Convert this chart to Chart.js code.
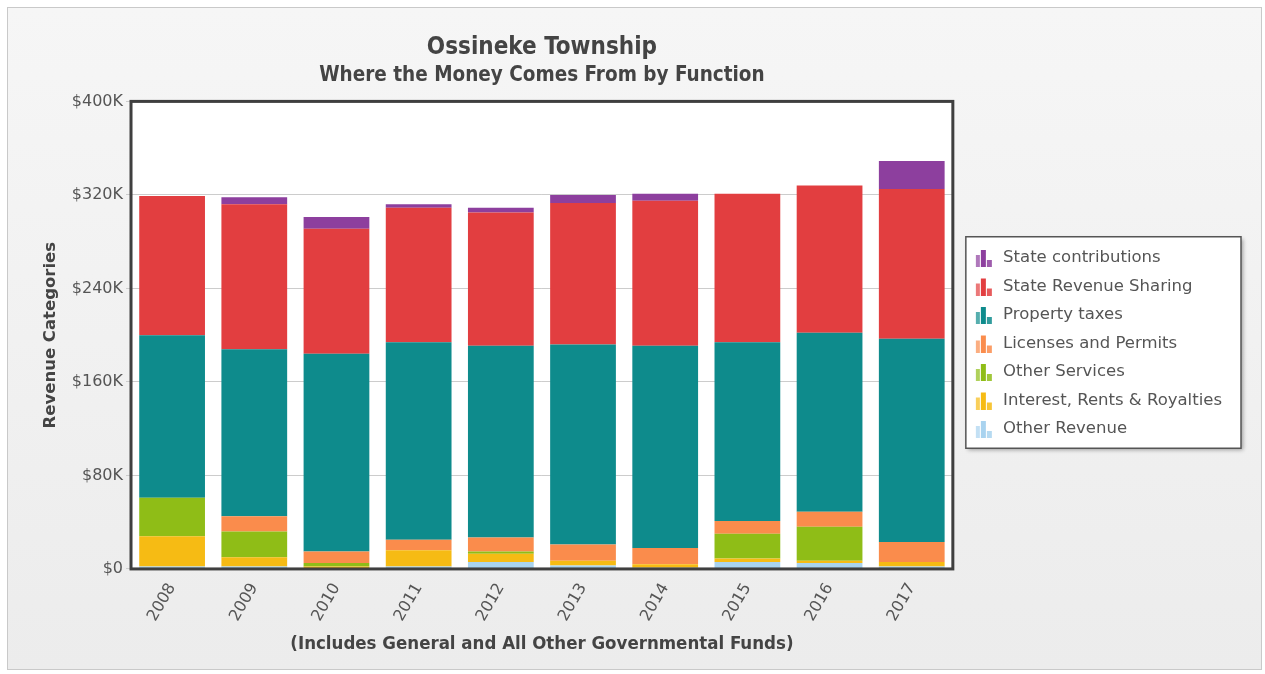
<!DOCTYPE html>
<html>
<head>
<meta charset="utf-8">
<script src="https://cdn.jsdelivr.net/npm/chart.js@4/dist/chart.umd.min.js"></script>
<style>
  body { margin: 0; background: #fff; }
  #frame { position: absolute; left: 7px; top: 7px; width: 1253px; height: 661px;
           border: 1px solid #c9c9c9; background: linear-gradient(#f6f6f6, #ececec); }
  #wrap { position: absolute; left: 0; top: 0; width: 1265px; height: 674px; }
</style>
</head>
<body>
<div id="frame"></div>
<div id="wrap"><canvas id="myChart"></canvas></div>
<script>
// values in dollars
var years = ['2008', '2009', '2010', '2011', '2012', '2013', '2014', '2015', '2016', '2017'];
var otherRevenue  = [2000, 2000, 0, 2000, 6000, 3000, 1000, 6000, 5000, 2000];
var interestRents = [26000, 8000, 2000, 14000, 7000, 4000, 3000, 3000, 2000, 4000];
var otherServices = [33000, 22000, 3000, 0, 2000, 0, 0, 21000, 29000, 0];
var licenses      = [0, 13000, 10000, 9000, 12000, 14000, 14000, 11000, 13000, 17000];
var propertyTaxes = [139000, 143000, 169000, 169000, 164000, 171000, 173000, 153000, 153000, 174000];
var stateRevenue  = [119000, 124000, 107000, 115000, 114000, 121000, 124000, 127000, 126000, 128000];
var stateContrib  = [0, 6000, 10000, 3000, 4000, 7000, 6000, 0, 0, 24000];

var seriesNames = ['Other Revenue', 'Interest, Rents & Royalties', 'Other Services',
                   'Licenses and Permits', 'Property taxes', 'State Revenue Sharing', 'State contributions'];
var seriesData = [otherRevenue, interestRents, otherServices, licenses, propertyTaxes, stateRevenue, stateContrib];
var colors = ['#a9d3ef', '#f6bb14', '#8fbd17', '#fa8c4c', '#0e8b8c', '#e23e40', '#8d3f9e'];

var condensed = "'DejaVu Sans Condensed', 'Liberation Sans Narrow', 'DejaVu Sans', sans-serif";
var plain = "'DejaVu Sans', sans-serif";

// little bar-chart icon for the legend (glyph sits on the right of a wider canvas)
function makeIcon(color){
    var c = document.createElement('canvas');
    c.width = 28; c.height = 18;
    var g = c.getContext('2d');
    g.fillStyle = color;
    g.globalAlpha = 0.7;
    g.fillRect(10, 6, 4, 12);
    g.globalAlpha = 1;
    g.fillRect(15, 1, 5, 17);
    g.globalAlpha = 0.85;
    g.fillRect(21, 11, 5, 7);
    return c;
}
var icons = colors.map(makeIcon);

var datasets = [];
for(var i = 0; i < seriesNames.length; i++){
    datasets.push({
        label: seriesNames[i],
        data: seriesData[i],
        backgroundColor: colors[i],
        borderWidth: 0,
        barPercentage: 0.8,
        categoryPercentage: 1.0
    });
}

var plotFrame = {
    id: 'plotFrame',
    beforeDraw: function(chart){
        var ctx = chart.ctx, a = chart.chartArea;
        ctx.save();
        ctx.fillStyle = '#ffffff';
        ctx.fillRect(a.left, a.top, a.right - a.left, a.bottom - a.top);
        // legend box
        var hb = chart.legend.legendHitBoxes;
        if(hb && hb.length){
            var x0 = hb[0].left + 1, y0 = hb[0].top - 13;
            var x1 = x0, y1 = y0;
            hb.forEach(function(h){
                x1 = Math.max(x1, h.left + h.width);
                y1 = Math.max(y1, h.top + h.height);
            });
            x1 += 19; y1 += 11;
            ctx.shadowColor = 'rgba(0,0,0,0.35)';
            ctx.shadowBlur = 4;
            ctx.shadowOffsetX = 2;
            ctx.shadowOffsetY = 2;
            ctx.fillStyle = '#ffffff';
            ctx.fillRect(x0, y0, x1 - x0, y1 - y0);
            ctx.shadowColor = 'transparent';
            ctx.strokeStyle = '#555555';
            ctx.lineWidth = 1.5;
            ctx.strokeRect(x0, y0, x1 - x0, y1 - y0);
        }
        ctx.restore();
    },
    afterDraw: function(chart){
        var ctx = chart.ctx, a = chart.chartArea;
        ctx.save();
        ctx.strokeStyle = '#3f3f3f';
        ctx.lineWidth = 3;
        ctx.strokeRect(a.left, a.top, a.right - a.left, a.bottom - a.top);
        ctx.restore();
    }
};

new Chart(document.getElementById('myChart'), {
    type: 'bar',
    data: { labels: years, datasets: datasets },
    plugins: [plotFrame],
    options: {
        responsive: true,
        maintainAspectRatio: false,
        animation: false,
        layout: { padding: { left: 37, right: 33, top: 33, bottom: 15 } },
        plugins: {
            title: {
                display: true,
                fullSize: false,
                text: 'Ossineke Township',
                color: '#444',
                font: { family: condensed, size: 24, weight: 'bold' },
                padding: { top: 0, bottom: 2 }
            },
            subtitle: {
                display: true,
                fullSize: false,
                text: 'Where the Money Comes From by Function',
                color: '#444',
                font: { family: condensed, size: 20.5, weight: 'bold' },
                padding: { top: 0, bottom: 13 }
            },
            legend: {
                position: 'right',
                align: 'start',
                reverse: true,
                // blank title only pushes the items down to where the reference has them
                title: {
                    display: true,
                    text: ' ',
                    font: { size: 10, lineHeight: 1.2 },
                    padding: { top: 192.75, bottom: 0 }
                },
                labels: {
                    usePointStyle: true,
                    pointStyleWidth: 30,
                    color: '#555',
                    font: { family: plain, size: 16.5 },
                    padding: 12,
                    generateLabels: function(chart){
                        var items = Chart.defaults.plugins.legend.labels.generateLabels(chart);
                        items.forEach(function(it){ it.pointStyle = icons[it.datasetIndex]; });
                        return items;
                    }
                }
            },
            tooltip: { enabled: false }
        },
        scales: {
            x: {
                stacked: true,
                grid: { display: false },
                border: { display: false },
                ticks: {
                    color: '#555',
                    font: { family: plain, size: 16 },
                    minRotation: 60,
                    maxRotation: 60
                },
                title: {
                    display: true,
                    text: '(Includes General and All Other Governmental Funds)',
                    color: '#444',
                    font: { family: condensed, size: 18.5, weight: 'bold' },
                    padding: { top: 5 }
                }
            },
            y: {
                stacked: true,
                min: 0,
                max: 400000,
                border: { display: false },
                grid: { color: '#cccccc', tickLength: 5 },
                ticks: {
                    stepSize: 80000,
                    padding: 3,
                    color: '#555',
                    font: { family: plain, size: 16 },
                    callback: function(v){ return v === 0 ? '$0' : '$' + (v / 1000) + 'K'; }
                },
                title: {
                    display: true,
                    text: 'Revenue Categories',
                    color: '#444',
                    font: { family: plain, size: 16.5, weight: 'bold' },
                    padding: { bottom: 8 }
                }
            }
        }
    }
});
</script>
</body>
</html>
